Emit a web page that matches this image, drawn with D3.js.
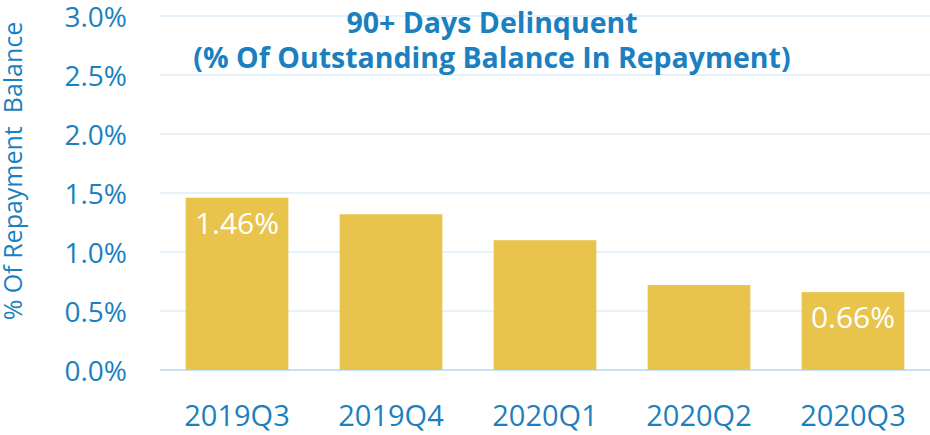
<!DOCTYPE html>
<html>
<head>
<meta charset="utf-8">
<script src="https://cdn.jsdelivr.net/npm/d3@7"></script>
<style>
  body { margin: 0; background: #fff; }
  svg { display: block; font-family: "Open Sans", sans-serif; }
</style>
</head>
<body>
<svg id="chart" width="930" height="435"></svg>
<script>
// chart data
const quarters = ["2019Q3", "2019Q4", "2020Q1", "2020Q2", "2020Q3"];
const delinquent = [1.46, 1.32, 1.10, 0.72, 0.66];
const yTicks = [0, 0.5, 1.0, 1.5, 2.0, 2.5, 3.0];
const labelled = ["2019Q3", "2020Q3"];

const svg = d3.select("#chart");
const blue = "#1b7fc0";

const x = d3.scaleBand()
    .domain(quarters)
    .range([160, 930])
    .paddingInner(0.333)
    .paddingOuter(0.1665);

const y = d3.scaleLinear()
    .domain([0, 3])
    .range([370, 16]);

// gridlines
svg.append("g")
    .selectAll("line")
    .data(yTicks)
    .join("line")
    .attr("x1", 160)
    .attr("x2", 930)
    .attr("y1", d => y(d))
    .attr("y2", d => y(d))
    .attr("stroke", d => d === 0 ? "#c6e2f5" : "#ddeefb")
    .attr("stroke-width", d => d === 0 ? 2 : 1.5);

// y axis labels
const yAxis = svg.append("g")
    .attr("transform", "translate(127,0)")
    .call(d3.axisLeft(y).tickValues(yTicks).tickFormat(d => d.toFixed(1) + "%").tickSize(0).tickPadding(0));
yAxis.select(".domain").remove();
yAxis.selectAll("text")
    .attr("fill", blue)
    .attr("font-size", 28)
    .attr("font-family", "Open Sans, sans-serif")
    .attr("dy", "0.38em");

// bars
svg.append("g")
    .selectAll("rect")
    .data(delinquent)
    .join("rect")
    .attr("x", (d, i) => x(quarters[i]))
    .attr("y", d => y(d))
    .attr("width", x.bandwidth())
    .attr("height", d => y(0) - y(d))
    .attr("fill", "#e8c44d");

// value labels on first and last bar
svg.append("g")
    .selectAll("text")
    .data(quarters.filter(q => labelled.includes(q)))
    .join("text")
    .attr("x", q => x(q) + x.bandwidth() / 2)
    .attr("y", q => y(delinquent[quarters.indexOf(q)]) + 36)
    .attr("text-anchor", "middle")
    .attr("fill", "#fff")
    .attr("font-size", 30)
    .text(q => delinquent[quarters.indexOf(q)].toFixed(2) + "%");

// x axis labels
const xAxis = svg.append("g")
    .attr("transform", "translate(0,426)")
    .call(d3.axisBottom(x).tickSize(0).tickPadding(0));
xAxis.select(".domain").remove();
xAxis.selectAll("text")
    .attr("fill", blue)
    .attr("font-size", 29)
    .attr("font-family", "Open Sans, sans-serif")
    .attr("dy", 0);

// y axis title
svg.append("text")
    .attr("transform", "translate(22,171) rotate(-90)")
    .attr("text-anchor", "middle")
    .attr("fill", blue)
    .attr("font-size", 25)
    .style("white-space", "pre")
    .text("% Of Repayment  Balance");

// title
const title = svg.append("text")
    .attr("text-anchor", "middle")
    .attr("fill", blue)
    .attr("font-weight", "bold")
    .attr("font-size", 28.5);
title.append("tspan").attr("x", 492).attr("y", 33).text("90+ Days Delinquent");
title.append("tspan").attr("x", 492).attr("y", 68).text("(% Of Outstanding Balance In Repayment)");
</script>
</body>
</html>
